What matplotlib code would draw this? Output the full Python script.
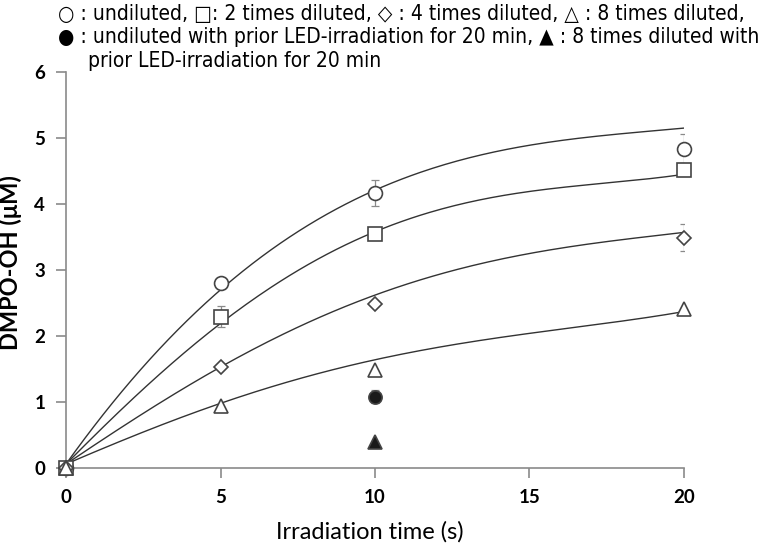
import matplotlib

matplotlib.use("Agg")
import matplotlib.pyplot as plt
import numpy as np

# ── data ───────────────────────────────────────────────────────────────────
times = [0, 5, 10, 20]

undiluted = [0.0, 2.81, 4.17, 4.84]
undiluted_err = [0.0, 0.0, 0.20, 0.22]
diluted_2 = [0.0, 2.29, 3.55, 4.52]
diluted_2_err = [0.0, 0.16, 0.0, 0.0]
diluted_4 = [0.0, 1.53, 2.48, 3.49]
diluted_4_err = [0.0, 0.0, 0.0, 0.20]
diluted_8 = [0.0, 0.94, 1.48, 2.41]

led_time = [10]
led_undiluted = [1.08]
led_undiluted_err = [0.10]
led_diluted_8 = [0.40]

# fitted curves as drawn in the figure, read at these times
curve_t = [0, 5, 10, 15, 20]
curve_undiluted = [0.06, 2.70, 4.21, 4.89, 5.15]
curve_2 = [0.06, 2.19, 3.58, 4.19, 4.45]
curve_4 = [0.06, 1.53, 2.62, 3.25, 3.57]
curve_8 = [0.06, 0.98, 1.64, 2.04, 2.37]

LEGEND_LINES = [
    "○ : undiluted, □: 2 times diluted, ◇ : 4 times diluted, △ : 8 times diluted,",
    "● : undiluted with prior LED-irradiation for 20 min, ▲ : 8 times diluted with",
    "     prior LED-irradiation for 20 min",
]

EDGE = "#444444"
AXIS = "#8a8a8a"

fig = plt.figure(figsize=(7.74, 5.47), dpi=100)
ax = fig.add_axes([0.0853, 0.1444, 0.7984, 0.724])

# smooth fitted curves
tt = np.linspace(0, 20, 200)
for cy in (curve_undiluted, curve_2, curve_4, curve_8):
    coef = np.polyfit(curve_t, cy, 4)
    ax.plot(tt, np.polyval(coef, tt), color="#333333", lw=1.0, zorder=2)

# error bars
err_kw = dict(fmt="none", ecolor="#8a8a8a", elinewidth=0.9, capsize=3, capthick=0.9, zorder=1)
ax.errorbar(times, undiluted, yerr=undiluted_err, **err_kw)
ax.errorbar(times, diluted_2, yerr=diluted_2_err, **err_kw)
ax.errorbar(times, diluted_4, yerr=diluted_4_err, **err_kw)
ax.errorbar(led_time, led_undiluted, yerr=led_undiluted_err, **err_kw)

mk = dict(ls="none", mec=EDGE, mew=1.2, clip_on=False, zorder=3)
ax.plot(times, undiluted, marker="o", ms=10, mfc="white", **mk)
ax.plot(times, diluted_2, marker="s", ms=10, mfc="white", **mk)
ax.plot(times, diluted_4, marker="D", ms=7, mfc="white", **mk)
ax.plot(times, diluted_8, marker="^", ms=10.5, mfc="white", **mk)
ax.plot(led_time, led_undiluted, marker="o", ms=9.5, mfc="#1a1a1a", **mk)
ax.plot(led_time, led_diluted_8, marker="^", ms=10, mfc="#1a1a1a", **mk)

ax.set_xlim(0, 20)
ax.set_ylim(0, 6)
ax.set_xticks([0, 5, 10, 15, 20])
ax.set_yticks([0, 1, 2, 3, 4, 5, 6])
for s in ("top", "right"):
    ax.spines[s].set_visible(False)
for s in ("left", "bottom"):
    ax.spines[s].set_color(AXIS)
    ax.spines[s].set_linewidth(1.2)
ax.tick_params(direction="out", length=7, width=1.2, color=AXIS, pad=8)
for lab in ax.get_xticklabels() + ax.get_yticklabels():
    lab.set_fontfamily("Lato")
    lab.set_fontweight("bold")
    lab.set_fontsize(13.5)

ax.set_xlabel("Irradiation time (s)", fontfamily="Lato", fontsize=17, va="center")
ax.xaxis.set_label_coords(0.492, -0.162)
ax.set_ylabel("DMPO-OH (μM)", fontfamily="Lato", fontweight="bold", fontsize=17, va="center")
ax.yaxis.set_label_coords(-0.09, 0.52)

ys = [0.975, 0.932, 0.889]
for txt, y in zip(LEGEND_LINES, ys):
    fig.text(0.075, y, txt, fontsize=15, family="DejaVu Sans", fontstretch="condensed",
             va="center", ha="left")

fig.savefig("out.png", dpi=100)
